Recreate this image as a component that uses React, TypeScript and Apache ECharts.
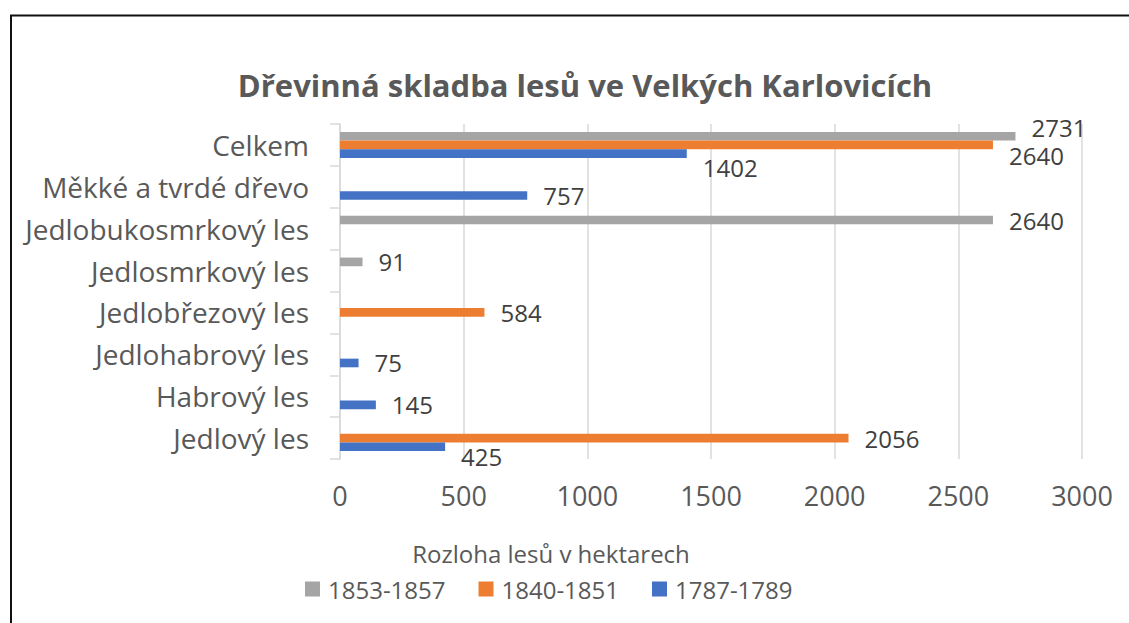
import React, { useEffect, useRef } from "react";
import * as echarts from "echarts";

const categories = [
  "Jedlový les",
  "Habrový les",
  "Jedlohabrový les",
  "Jedlobřezový les",
  "Jedlosmrkový les",
  "Jedlobukosmrkový les",
  "Měkké a tvrdé dřevo",
  "Celkem",
];
const seriesNames = ["1853-1857", "1840-1851", "1787-1789"];
const values1853 = [null, null, null, null, 91, 2640, null, 2731];
const values1840 = [2056, null, null, 584, null, null, null, 2640];
const values1787 = [425, 145, 75, null, null, null, 757, 1402];
const xTicks = [0, 500, 1000, 1500, 2000, 2500, 3000];

const FONT = "'Open Sans', sans-serif";
const colors = ["#a5a5a5", "#ed7d31", "#4472c4"];
// label vertical shifts (Excel moved some overlapping labels)
const labelShift: Record<string, Record<number, number>> = {
  "1853-1857": { 7: -9 },
  "1840-1851": { 7: 11 },
  "1787-1789": { 7: 14, 0: 10 },
};

export default function App() {
  const ref = useRef<HTMLDivElement>(null);
  useEffect(() => {
    if (!ref.current) return;
    const chart = echarts.init(ref.current, undefined, { renderer: "svg" });
    const allValues = [values1853, values1840, values1787];
    const series = seriesNames.map((name, si) => ({
      name,
      type: "bar",
      barGap: "0%",
      barCategoryGap: "38%",
      itemStyle: { color: colors[si] },
      label: {
        show: true,
        position: "right",
        distance: 16,
        fontFamily: FONT,
        fontSize: 24,
        color: "#404040",
      },
      data: allValues[si].map((v, i) => {
        const shift = labelShift[name][i];
        if (v === null) return null;
        if (shift !== undefined) {
          return { value: v, label: { offset: [0, shift] } };
        }
        return v;
      }),
    }));
    chart.setOption({
      animation: false,
      backgroundColor: "#ffffff",
      title: [
        {
          text: "Dřevinná skladba lesů ve Velkých Karlovicích",
          left: 580,
          top: 80,
          textAlign: "center",
          textVerticalAlign: "middle",
          textStyle: {
            fontFamily: FONT,
            fontSize: 31,
            fontWeight: "bold",
            color: "#595959",
          },
        },
        {
          text: "Rozloha lesů v hektarech",
          left: 546,
          top: 548,
          textAlign: "center",
          textVerticalAlign: "middle",
          textStyle: {
            fontFamily: FONT,
            fontSize: 24,
            fontWeight: "normal",
            color: "#595959",
          },
        },
      ],
      legend: {
        data: seriesNames,
        left: 300,
        top: 572,
        itemWidth: 15,
        itemHeight: 15,
        itemGap: 33,
        icon: "rect",
        textStyle: {
          fontFamily: FONT,
          fontSize: 24,
          color: "#595959",
          padding: [0, 0, 0, 3],
        },
      },
      grid: { left: 340, right: 47, top: 124, bottom: 164 },
      xAxis: {
        type: "value",
        min: xTicks[0],
        max: xTicks[xTicks.length - 1],
        interval: xTicks[1] - xTicks[0],
        axisLine: { show: false },
        axisTick: { show: false },
        axisLabel: {
          fontFamily: FONT,
          fontSize: 27,
          color: "#595959",
          margin: 23,
          formatter: (v: number) => String(v),
        },
        splitLine: { lineStyle: { color: "#d9d9d9", width: 1.5 } },
      },
      yAxis: {
        type: "category",
        data: categories,
        axisLine: { show: true, lineStyle: { color: "#d9d9d9", width: 1.5 } },
        axisTick: { show: true, length: 10, lineStyle: { color: "#d9d9d9", width: 1.5 } },
        axisLabel: {
          fontFamily: FONT,
          fontSize: 28,
          color: "#595959",
          margin: 31,
        },
      },
      graphic: [
        {
          type: "polyline",
          shape: { points: [[11, 623], [11, 15.5], [1129, 15.5]] },
          style: { stroke: "#111111", lineWidth: 2, fill: null },
          silent: true,
        },
      ],
      series,
    });
    return () => chart.dispose();
  }, []);
  return (
    <div
      ref={ref}
      style={{ position: "absolute", left: 0, top: 0, width: 1129, height: 623 }}
    />
  );
}
